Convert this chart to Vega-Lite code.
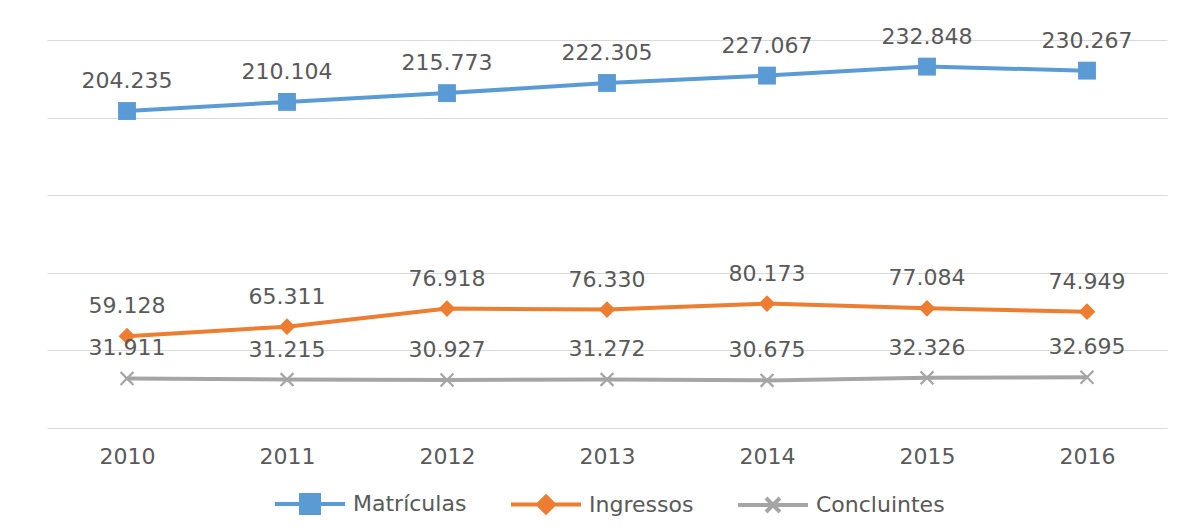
{
  "$schema": "https://vega.github.io/schema/vega-lite/v6.json",
  "width": 1120,
  "height": 388,
  "autosize": {"type": "none"},
  "padding": {"left": 47, "top": 40, "right": 22, "bottom": 104},
  "background": "white",
  "config": {
    "view": {"stroke": null},
    "font": "DejaVu Sans",
    "locale": {"number": {"decimal": ",", "thousands": ".", "grouping": [3], "currency": ["R$", ""]}}
  },
  "data": {
    "values": [
      {"ano": "2010", "serie": "Matrículas", "valor": 204235},
      {"ano": "2011", "serie": "Matrículas", "valor": 210104},
      {"ano": "2012", "serie": "Matrículas", "valor": 215773},
      {"ano": "2013", "serie": "Matrículas", "valor": 222305},
      {"ano": "2014", "serie": "Matrículas", "valor": 227067},
      {"ano": "2015", "serie": "Matrículas", "valor": 232848},
      {"ano": "2016", "serie": "Matrículas", "valor": 230267},
      {"ano": "2010", "serie": "Ingressos", "valor": 59128},
      {"ano": "2011", "serie": "Ingressos", "valor": 65311},
      {"ano": "2012", "serie": "Ingressos", "valor": 76918},
      {"ano": "2013", "serie": "Ingressos", "valor": 76330},
      {"ano": "2014", "serie": "Ingressos", "valor": 80173},
      {"ano": "2015", "serie": "Ingressos", "valor": 77084},
      {"ano": "2016", "serie": "Ingressos", "valor": 74949},
      {"ano": "2010", "serie": "Concluintes", "valor": 31911},
      {"ano": "2011", "serie": "Concluintes", "valor": 31215},
      {"ano": "2012", "serie": "Concluintes", "valor": 30927},
      {"ano": "2013", "serie": "Concluintes", "valor": 31272},
      {"ano": "2014", "serie": "Concluintes", "valor": 30675},
      {"ano": "2015", "serie": "Concluintes", "valor": 32326},
      {"ano": "2016", "serie": "Concluintes", "valor": 32695}
    ]
  },
  "encoding": {
    "x": {
      "field": "ano", "type": "ordinal", "sort": null,
      "scale": {"type": "point", "padding": 0.5},
      "axis": {"title": null, "labelAngle": 0, "ticks": false, "domain": false, "grid": false,
               "labelFontSize": 22, "labelColor": "#595959", "labelPadding": 18}
    },
    "y": {
      "field": "valor", "type": "quantitative",
      "scale": {"domain": [0, 250000], "nice": false},
      "axis": {"title": null, "labels": false, "ticks": false, "domain": false,
               "values": [0, 50000, 100000, 150000, 200000, 250000],
               "gridColor": "#d9d9d9", "gridWidth": 1.2}
    }
  },
  "layer": [
    {
      "mark": {"type": "line", "strokeWidth": 4},
      "encoding": {
        "stroke": {
          "field": "serie", "type": "nominal",
          "scale": {"domain": ["Matrículas", "Ingressos", "Concluintes"], "range": ["#5b9bd5", "#ed7d31", "#a5a5a5"]},
          "legend": {
            "title": null, "orient": "none", "direction": "horizontal",
            "legendX": 251, "legendY": 452,
            "symbolSize": 400, "labelFontSize": 22, "labelColor": "#595959",
            "labelOffset": 31, "columnPadding": 36,
            "encode": {
              "symbols": {
                "update": {
                  "shape": {"signal": "datum.value === 'Matrículas' ? 'M-3.5,0H3.5M-0.9,-0.9H0.9V0.9H-0.9Z' : datum.value === 'Ingressos' ? 'M-3.5,0H3.5M0,-0.8L0.8,0L0,0.8L-0.8,0Z' : 'M-3.5,0H3.5M-0.7,-0.7L0.7,0.7M-0.7,0.7L0.7,-0.7'"},
                  "fill": {"signal": "scale('stroke', datum.value)"},
                  "stroke": {"signal": "scale('stroke', datum.value)"},
                  "strokeWidth": {"value": 4},
                  "opacity": {"value": 1}
                }
              }
            }
          }
        }
      }
    },
    {
      "transform": [{"filter": "datum.serie === 'Matrículas'"}],
      "mark": {"type": "point", "filled": true, "opacity": 1, "shape": "square", "size": 320, "color": "#5b9bd5"}
    },
    {
      "transform": [{"filter": "datum.serie === 'Ingressos'"}],
      "mark": {"type": "point", "filled": true, "opacity": 1, "shape": "diamond", "size": 280, "color": "#ed7d31"}
    },
    {
      "transform": [{"filter": "datum.serie === 'Concluintes'"}],
      "mark": {"type": "point", "filled": true, "opacity": 1, "size": 210, "color": "#a5a5a5",
               "shape": "M-1,-0.78L-0.78,-1L0,-0.22L0.78,-1L1,-0.78L0.22,0L1,0.78L0.78,1L0,0.22L-0.78,1L-1,0.78L-0.22,0Z"}
    },
    {
      "mark": {"type": "text", "dy": -30, "fontSize": 22, "color": "#595959"},
      "encoding": {
        "text": {"field": "valor", "type": "quantitative", "format": ",d"}
      }
    }
  ]
}
